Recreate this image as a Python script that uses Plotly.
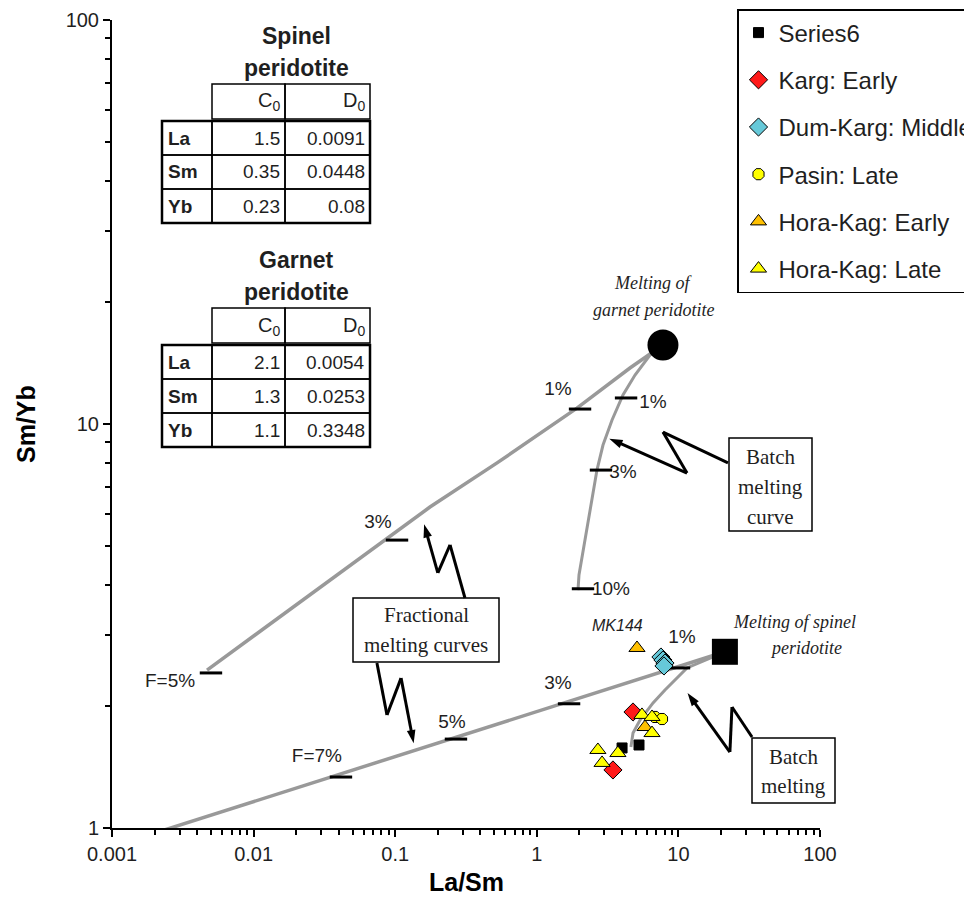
import plotly.graph_objects as go

# ---------------- data ----------------
series6_x = [5.27, 4.00]
series6_y = [1.605, 1.578]
karg_x = [4.78, 3.45]
karg_y = [1.937, 1.392]
dumkarg_x = [7.53, 7.78, 8.04, 7.91]
dumkarg_y = [2.65, 2.605, 2.56, 2.518]
pasin_x = [6.83, 7.66]
pasin_y = [1.883, 1.861]
hke_x = [5.10, 5.81]
hke_y = [2.79, 1.778]
hkl_x = [5.53, 6.51, 6.51, 2.70, 3.74, 2.89]
hkl_y = [1.905, 1.883, 1.718, 1.56, 1.533, 1.449]

garnet_src_x = [7.78]
garnet_src_y = [15.69]
spinel_src_x = [21.3]
spinel_src_y = [2.73]

# fractional melting curves
garnet_frac_x = [7.78, 4.55, 1.92, 0.524, 0.176, 0.0347, 0.00469]
garnet_frac_y = [15.69, 13.76, 10.95, 8.01, 6.23, 4.11, 2.46]
spinel_frac_x = [21.3, 0.00201]
spinel_frac_y = [2.73, 0.972]

# batch melting curves
garnet_batch_x = [7.78, 6.30, 4.94, 4.06, 3.40, 2.935, 2.66, 2.376, 2.12, 1.986, 1.954]
garnet_batch_y = [15.69, 14.82, 13.22, 11.80, 10.23, 8.87, 7.69, 6.12, 4.88, 4.23, 3.88]
spinel_batch_x = [21.3, 11.5, 8.04, 6.62, 5.36, 4.78, 4.62]
spinel_batch_y = [2.73, 2.49, 2.196, 2.04, 1.851, 1.718, 1.586]

# melting-degree ticks and labels
tick_x = [2.02, 0.1030, 0.00500, 10.1, 1.69, 0.2686, 0.0414, 4.27, 2.84, 2.12]
tick_y = [10.89, 5.16, 2.42, 2.49, 2.03, 1.66, 1.337, 11.6, 7.69, 3.91]
pct_text = ["1%", "3%", "F=5%", "1%", "3%", "5%", "F=7%", "1%", "3%", "10%"]
pct_x = [1.41, 0.0756, 0.00257, 10.6, 1.41, 0.252, 0.0280, 6.62, 4.06, 3.34]
pct_y = [12.14, 5.69, 2.30, 2.95, 2.27, 1.82, 1.50, 11.27, 7.56, 3.88]

# pointer arrows (zig-zag)
arrow_batch_curve_x = [22.4, 7.78, 11.5, 3.25]
arrow_batch_curve_y = [8.01, 9.55, 7.56, 9.20]
arrow_frac_up_x = [0.311, 0.244, 0.200, 0.160]
arrow_frac_up_y = [3.71, 5.02, 4.28, 5.65]
arrow_frac_dn_x = [0.0743, 0.0875, 0.110, 0.135]
arrow_frac_dn_y = [2.56, 1.905, 2.35, 1.62]
arrow_batch_sp_x = [33.1, 23.9, 23.1, 11.6]
arrow_batch_sp_y = [1.68, 1.993, 1.542, 2.16]

# tables
table_rows = ["La", "Sm", "Yb"]
spinel_C0 = ["1.5", "0.35", "0.23"]
spinel_D0 = ["0.0091", "0.0448", "0.08"]
garnet_C0 = ["2.1", "1.3", "1.1"]
garnet_D0 = ["0.0054", "0.0253", "0.3348"]

x_tickvals = [0.001, 0.01, 0.1, 1, 10, 100]
x_ticktext = ["0.001", "0.01", "0.1", "1", "10", "100"]
y_tickvals = [1, 10, 100]
y_ticktext = ["1", "10", "100"]

# ---------------- layout helpers ----------------
W, H = 972, 903
OFF = 8  # page body margin in the browser
L, R, T, B = 112, 820, 20, 828  # plot area as seen on screen
GRAY = "#999999"
TXT = "#1f1f1f"


def P(px, py):
    return (px - L) / (R - L), (B - py) / (B - T)


fig = go.Figure()

# curves
for cx, cy, w in [(garnet_frac_x, garnet_frac_y, 3.5), (spinel_frac_x, spinel_frac_y, 3.5),
                  (garnet_batch_x, garnet_batch_y, 3), (spinel_batch_x, spinel_batch_y, 3)]:
    fig.add_trace(go.Scatter(x=cx, y=cy, mode="lines", line=dict(color=GRAY, width=w),
                             showlegend=False, hoverinfo="skip"))

# tick marks on curves
fig.add_trace(go.Scatter(x=tick_x, y=tick_y, mode="markers",
                         marker=dict(symbol="line-ew", size=16, line=dict(color="black", width=3)),
                         showlegend=False, hoverinfo="skip"))

# percent labels
fig.add_trace(go.Scatter(x=pct_x, y=pct_y, mode="text", text=pct_text,
                         textfont=dict(family="Arial", size=19, color=TXT),
                         textposition="middle center", showlegend=False, hoverinfo="skip"))

# arrows
for ax_, ay_ in [(arrow_batch_curve_x, arrow_batch_curve_y), (arrow_frac_up_x, arrow_frac_up_y),
                 (arrow_frac_dn_x, arrow_frac_dn_y), (arrow_batch_sp_x, arrow_batch_sp_y)]:
    n = len(ax_)
    fig.add_trace(go.Scatter(x=ax_, y=ay_, mode="lines+markers",
                             line=dict(color="black", width=3),
                             marker=dict(symbol=["circle"] * (n - 1) + ["arrow"],
                                         size=14, opacity=[0] * (n - 1) + [1],
                                         angleref="previous", color="black"),
                             showlegend=False, hoverinfo="skip"))

# source markers
fig.add_trace(go.Scatter(x=garnet_src_x, y=garnet_src_y, mode="markers",
                         marker=dict(symbol="circle", size=31, color="black"),
                         showlegend=False, hoverinfo="skip"))
fig.add_trace(go.Scatter(x=spinel_src_x, y=spinel_src_y, mode="markers",
                         marker=dict(symbol="square", size=26, color="black"),
                         showlegend=False, hoverinfo="skip"))

# data series
series = [
    ("Series6", series6_x, series6_y, "square", "black", 10),
    ("Karg: Early", karg_x, karg_y, "diamond", "#ff1a1a", 14),
    ("Dum-Karg: Middle", dumkarg_x, dumkarg_y, "diamond", "#66c9d9", 14),
    ("Pasin: Late", pasin_x, pasin_y, "octagon", "#ffff00", 12),
    ("Hora-Kag: Early", hke_x, hke_y, "triangle-up", "#ffc000", 14),
    ("Hora-Kag: Late", hkl_x, hkl_y, "triangle-up", "#ffff00", 14),
]
for i, (name, sx, sy, sym, col, sz) in enumerate(series):
    fig.add_trace(go.Scatter(x=sx, y=sy, mode="markers", name=name, legendgroup=f"g{i}",
                             marker=dict(symbol=sym, size=sz, color=col,
                                         line=dict(color="black", width=1))))

shapes = []
annotations = []


def rect(x0, y0, x1, y1, w=1.5):
    a0, b0 = P(x0, y1)
    a1, b1 = P(x1, y0)
    shapes.append(dict(type="rect", xref="paper", yref="paper", x0=a0, y0=b0, x1=a1, y1=b1,
                       line=dict(color="black", width=w), fillcolor="rgba(0,0,0,0)", layer="above"))


def text(px, py, s, size=20, family="Arial", anchor="center", color=TXT, angle=0):
    a, b = P(px, py)
    annotations.append(dict(xref="paper", yref="paper", x=a, y=b, text=s, showarrow=False,
                            xanchor=anchor, yanchor="middle", textangle=angle,
                            font=dict(family=family, size=size, color=color)))


# tables
for (t1, t2, htop, c0, d0) in [("Spinel", "peridotite", 84, spinel_C0, spinel_D0),
                                ("Garnet", "peridotite", 308, garnet_C0, garnet_D0)]:
    text(296, htop - 48, f"<b>{t1}</b>", size=23)
    text(296, htop - 16, f"<b>{t2}</b>", size=23)
    rect(212, htop, 285, htop + 35)
    rect(285, htop, 370, htop + 35)
    text(282, htop + 18, "C<sub>0</sub>", size=20, anchor="right")
    text(367, htop + 18, "D<sub>0</sub>", size=20, anchor="right")
    dtop = htop + 37
    for r in range(3):
        y0 = dtop + 34 * r
        rect(162, y0, 212, y0 + 34)
        rect(212, y0, 285, y0 + 34)
        rect(285, y0, 370, y0 + 34)
        text(166, y0 + 17, f"<b>{table_rows[r]}</b>", size=19, anchor="left")
        text(282, y0 + 17, c0[r], size=19, anchor="right")
        text(367, y0 + 17, d0[r], size=19, anchor="right")
    rect(162, dtop, 370, dtop + 102, w=2.5)

# boxed serif labels
SERIF = "Liberation Serif"
rect(729, 438, 812, 531)
for s, yy in [("Batch", 457), ("melting", 487), ("curve", 517)]:
    text(770.5, yy, s, size=21, family=SERIF)
rect(353, 598, 499, 662)
for s, yy in [("Fractional", 615), ("melting curves", 645)]:
    text(426, yy, s, size=21, family=SERIF)
rect(752, 738, 835, 803)
for s, yy in [("Batch", 757), ("melting", 786)]:
    text(793.5, yy, s, size=21, family=SERIF)

# italic notes
text(653, 283, "<i>Melting of</i>", size=18, family=SERIF)
text(653, 310, "<i>garnet peridotite</i>", size=18, family=SERIF)
text(794, 622, "<i>Melting of spinel</i>", size=18, family=SERIF)
text(806, 648, "<i>peridotite</i>", size=18, family=SERIF)
text(617, 625, "<i>MK144</i>", size=16)

# axis titles
text(466, 882, "<b>La/Sm</b>", size=25, color="black")
text(26, 424, "<b>Sm/Yb</b>", size=25, color="black", angle=-90)

minor_x = [m * 10 ** e for e in range(-3, 2) for m in range(2, 10)]
minor_y = [m * 10 ** e for e in range(0, 2) for m in range(2, 10)]

axis_common = dict(type="log", showline=True, linecolor="black", linewidth=2, mirror=False,
                   ticks="outside", ticklen=7, tickwidth=2, tickcolor="black",
                   showgrid=False, zeroline=False, automargin=False,
                   tickfont=dict(family="Arial", size=20, color=TXT))

fig.update_layout(
    width=W, height=H,
    margin=dict(l=L - OFF, r=W - (R - OFF), t=T - OFF, b=H - (B - OFF), autoexpand=False),
    paper_bgcolor="white", plot_bgcolor="white",
    font=dict(family="Arial", color=TXT),
    xaxis=dict(**axis_common, range=[-3, 2], tickmode="array", tickvals=x_tickvals,
               ticktext=x_ticktext,
               minor=dict(tickmode="array", tickvals=minor_x, ticks="outside", ticklen=5,
                          tickwidth=1.5, tickcolor="black", showgrid=False)),
    yaxis=dict(**axis_common, range=[0, 2], tickmode="array", tickvals=y_tickvals,
               ticktext=y_ticktext,
               minor=dict(tickmode="array", tickvals=minor_y, ticks="outside", ticklen=5,
                          tickwidth=1.5, tickcolor="black", showgrid=False)),
    legend=dict(x=(737 - L) / (R - L), y=(B - 9) / (B - T),
                xanchor="left", yanchor="top",
                bgcolor="white", bordercolor="black", borderwidth=1.5,
                font=dict(family="Arial", size=24, color=TXT), tracegroupgap=13),
    shapes=shapes,
    annotations=annotations,
    showlegend=True,
)

fig.write_html("out.html")
